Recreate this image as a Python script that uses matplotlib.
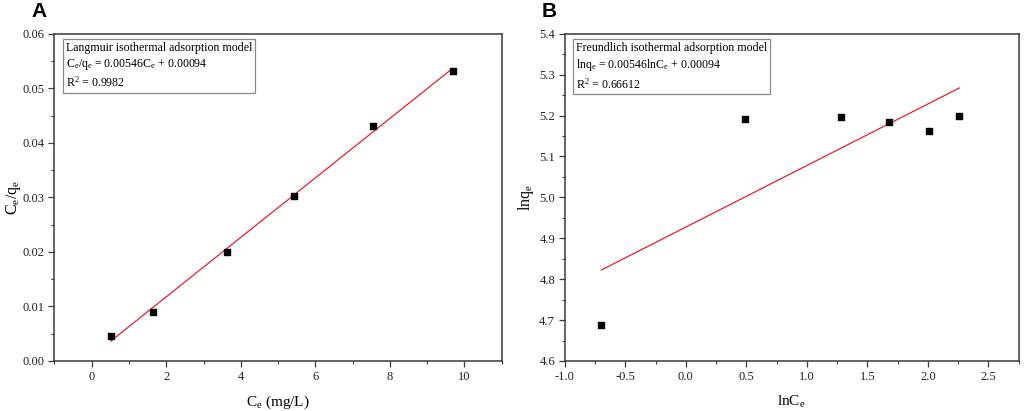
import numpy as np
import matplotlib
matplotlib.use("Agg")
import matplotlib.pyplot as plt
from matplotlib.ticker import MultipleLocator, FormatStrFormatter

plt.rcParams['font.family'] = ['Liberation Serif', 'DejaVu Serif']
plt.rcParams['mathtext.fontset'] = 'custom'
plt.rcParams['mathtext.rm'] = 'Liberation Serif'
plt.rcParams['mathtext.it'] = 'Liberation Serif:italic'

# Panel A data (Langmuir)
ce = [0.51, 1.64, 3.64, 5.42, 7.55, 9.68]
ce_qe = [0.00458, 0.00904, 0.0200, 0.0303, 0.0431, 0.0532]
# Panel B data (Freundlich)
ln_ce = [-0.698, 0.489, 1.280, 1.681, 2.011, 2.261]
ln_qe = [4.688, 5.1915, 5.196, 5.183, 5.162, 5.200]

textA = ["Langmuir isothermal adsorption model",
         r"$\mathregular{C_e/q_e}$ = 0.00546$\mathregular{C_e}$ + 0.00094",
         r"$\mathregular{R^2}$ = 0.9982"]
textB = ["Freundlich isothermal adsorption model",
         r"$\mathregular{lnq_e}$ = 0.00546$\mathregular{lnC_e}$ + 0.00094",
         r"$\mathregular{R^2}$ = 0.66612"]

fig = plt.figure(figsize=(10.24, 4.11), dpi=100)
axA = fig.add_axes([0.0532, 0.1217, 0.4368, 0.7963])
axB = fig.add_axes([0.5515, 0.1217, 0.4433, 0.7963])

spine_c = '#3a3a3a'

def style(ax):
    for s in ax.spines.values():
        s.set_color(spine_c)
        s.set_linewidth(1.1)
    ax.tick_params(which='both', direction='out', colors=spine_c, labelcolor='#222222',
                   labelsize=9, top=False, right=False)
    ax.tick_params(which='major', length=4, width=0.9, pad=3)
    ax.tick_params(which='minor', length=2.5, width=0.8)

def fitline(ax, x, y):
    x = np.asarray(x); y = np.asarray(y)
    k, b = np.polyfit(x, y, 1)
    xs = np.array([x.min(), x.max()])
    ax.plot(xs, k * xs + b, color='#e8202a', lw=0.9, zorder=2)
    ax.scatter(x, y, marker='s', s=20, color='black', zorder=3)

# Panel A
fitline(axA, ce, ce_qe)
axA.set_xlim(-1, 11)
axA.set_ylim(0, 0.06)
axA.xaxis.set_major_locator(MultipleLocator(2))
axA.xaxis.set_minor_locator(MultipleLocator(1))
axA.yaxis.set_major_locator(MultipleLocator(0.01))
axA.yaxis.set_minor_locator(MultipleLocator(0.005))
axA.yaxis.set_major_formatter(FormatStrFormatter('%.2f'))
style(axA)
axA.set_xlabel(r"$\mathregular{C_e}$ (mg/L)", fontsize=11, labelpad=8)
axA.set_ylabel(r"$\mathregular{C_e/q_e}$", fontsize=11.5, labelpad=0)
axA.text(0.025, 0.975, "\n".join(textA), transform=axA.transAxes, fontsize=8.6,
         va='top', ha='left', linespacing=1.3,
         bbox=dict(boxstyle='square,pad=0.25', facecolor='white', edgecolor='#888888', lw=0.9))

# Panel B
fitline(axB, ln_ce, ln_qe)
axB.set_xlim(-1.0, 2.75)
axB.set_ylim(4.6, 5.4)
axB.xaxis.set_major_locator(MultipleLocator(0.5))
axB.xaxis.set_minor_locator(MultipleLocator(0.25))
axB.yaxis.set_major_locator(MultipleLocator(0.1))
axB.yaxis.set_minor_locator(MultipleLocator(0.05))
axB.xaxis.set_major_formatter(FormatStrFormatter('%.1f'))
axB.yaxis.set_major_formatter(FormatStrFormatter('%.1f'))
style(axB)
axB.set_xlabel(r"$\mathregular{lnC_e}$", fontsize=11, labelpad=8)
axB.set_ylabel(r"$\mathregular{lnq_e}$", fontsize=11.5, labelpad=2)
axB.text(0.025, 0.975, "\n".join(textB), transform=axB.transAxes, fontsize=8.6,
         va='top', ha='left', linespacing=1.3,
         bbox=dict(boxstyle='square,pad=0.25', facecolor='white', edgecolor='#888888', lw=0.9))

fig.text(0.031, 0.995, "A", fontsize=15, fontweight='bold', family='Liberation Sans', va='top', ha='left')
fig.text(0.529, 0.995, "B", fontsize=15, fontweight='bold', family='Liberation Sans', va='top', ha='left')

fig.savefig("out.png", dpi=100)
